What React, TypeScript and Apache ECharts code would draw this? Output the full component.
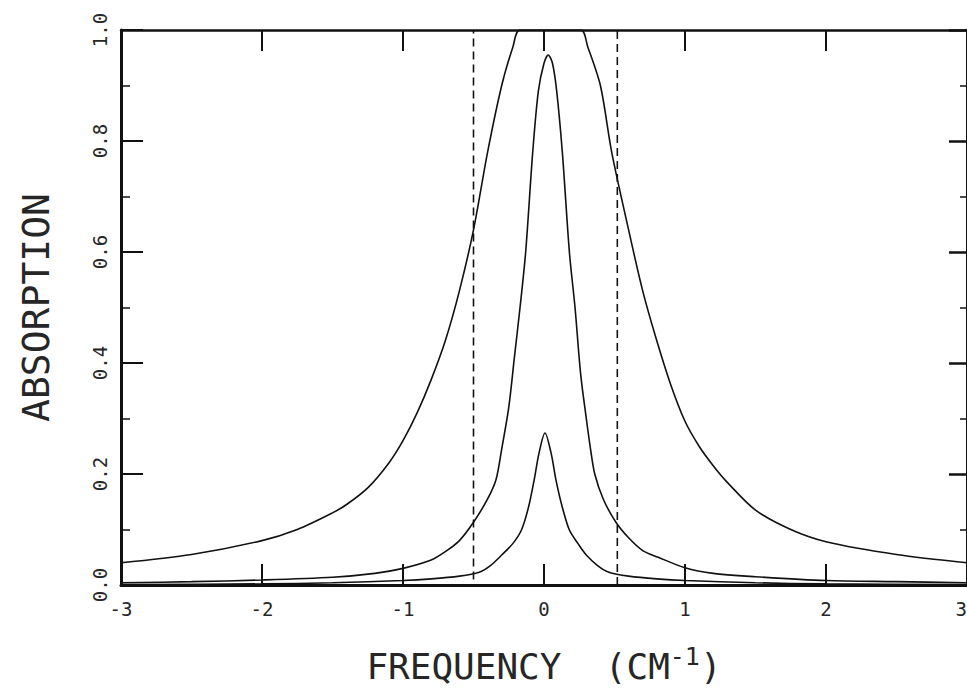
import React, { useEffect, useRef } from "react";
import * as echarts from "echarts";

// x tick labels (frequency, cm^-1)
const xTicks = [-3, -2, -1, 0, 1, 2, 3];
// y tick labels (absorption)
const yTicks = [0, 0.2, 0.4, 0.6, 0.8, 1.0];

// Broad (saturated) line: [frequency, absorption]
const broadLine: [number, number][] = [
  [-3, 0.04], [-2.5, 0.055], [-2, 0.08], [-1.75, 0.1], [-1.5, 0.13], [-1.4, 0.145],
  [-1.25, 0.175], [-1.1, 0.22], [-1.0, 0.26], [-0.9, 0.31], [-0.8, 0.37], [-0.7, 0.44],
  [-0.6, 0.53], [-0.5, 0.64], [-0.4, 0.78], [-0.3, 0.9], [-0.22, 0.97], [-0.17, 1.0],
  [0.26, 1.0], [0.31, 0.97], [0.4, 0.9], [0.48, 0.78], [0.6, 0.64], [0.7, 0.53],
  [0.8, 0.44], [0.9, 0.36], [1.0, 0.295], [1.1, 0.25], [1.2, 0.215], [1.3, 0.185],
  [1.5, 0.135], [1.75, 0.1], [2.0, 0.078], [2.5, 0.055], [3.0, 0.04],
];

// Intermediate line
const middleLine: [number, number][] = [
  [-3, 0.004], [-2.5, 0.006], [-2, 0.009], [-1.5, 0.014], [-1.2, 0.021], [-1, 0.03],
  [-0.8, 0.045], [-0.7, 0.06], [-0.6, 0.08], [-0.5, 0.113], [-0.4, 0.155], [-0.34, 0.19],
  [-0.3, 0.245], [-0.25, 0.32], [-0.21, 0.41], [-0.17, 0.5], [-0.13, 0.6], [-0.08, 0.78],
  [-0.04, 0.89], [0, 0.94], [0.03, 0.955], [0.06, 0.94], [0.09, 0.89], [0.13, 0.78],
  [0.18, 0.6], [0.22, 0.5], [0.26, 0.38], [0.3, 0.3], [0.33, 0.245], [0.36, 0.2],
  [0.42, 0.155], [0.51, 0.113], [0.6, 0.085], [0.7, 0.062], [0.81, 0.05], [1.0, 0.031],
  [1.2, 0.021], [1.5, 0.015], [2, 0.008], [2.5, 0.006], [3, 0.004],
];

// Weak line
const weakLine: [number, number][] = [
  [-3, 0.001], [-2, 0.002], [-1.5, 0.004], [-1, 0.008], [-0.8, 0.011], [-0.6, 0.016],
  [-0.46, 0.023], [-0.38, 0.035], [-0.3, 0.054], [-0.22, 0.075], [-0.16, 0.099],
  [-0.11, 0.14], [-0.07, 0.189], [-0.035, 0.238], [0.007, 0.274], [0.05, 0.238],
  [0.085, 0.189], [0.13, 0.14], [0.18, 0.099], [0.24, 0.075], [0.3, 0.054], [0.38, 0.035],
  [0.46, 0.023], [0.6, 0.016], [0.8, 0.011], [1, 0.008], [1.5, 0.004], [2, 0.002], [3, 0.001],
];

// Dashed vertical markers
const leftMarker: [number, number][] = [[-0.5, 0.01], [-0.5, 1.0]];
const rightMarker: [number, number][] = [[0.52, 0.0], [0.52, 1.0]];

const MONO = "'DejaVu Sans Mono', 'Liberation Mono', monospace";
const INK = "#111";
const TEXT = "#262626";

export default function App() {
  const ref = useRef<HTMLDivElement>(null);

  useEffect(() => {
    if (!ref.current) return;
    const chart = echarts.init(ref.current, undefined, { renderer: "svg" });

    const curveStyle = { color: INK, width: 1.6 };
    const dashStyle = { color: INK, width: 1.6, type: [8, 5] as number[] };

    chart.setOption({
      animation: false,
      backgroundColor: "#ffffff",
      grid: {
        left: 121,
        right: 0,
        top: 30,
        bottom: 108,
        containLabel: false,
        outerBoundsMode: "none",
      },
      xAxis: [
        {
          type: "value",
          position: "bottom",
          min: xTicks[0],
          max: xTicks[xTicks.length - 1],
          interval: 1,
          name: "{m|FREQUENCY  (CM}{sup|-1}{m|)}",
          nameLocation: "middle",
          nameGap: 59,
          nameTextStyle: {
            fontFamily: MONO,
            fontSize: 36,
            color: TEXT,
            rich: {
              m: { fontFamily: MONO, fontSize: 36, lineHeight: 36, padding: [8, 0, 0, 0], color: TEXT },
              sup: { fontFamily: MONO, fontSize: 25, lineHeight: 25, verticalAlign: "top", color: TEXT },
            },
          },
          axisLine: { show: true, onZero: false, lineStyle: { color: INK, width: 3 } },
          axisTick: { show: true, inside: true, length: 21, lineStyle: { color: INK, width: 2 } },
          axisLabel: {
            show: true,
            margin: 14,
            fontFamily: MONO,
            fontSize: 19,
            color: TEXT,
            alignMaxLabel: "right",
            formatter: (v: number) => String(v),
          },
          splitLine: { show: false },
        },
        {
          type: "value",
          position: "top",
          min: xTicks[0],
          max: xTicks[xTicks.length - 1],
          interval: 1,
          axisLine: { show: true, onZero: false, lineStyle: { color: INK, width: 2.5 } },
          axisTick: { show: true, inside: true, length: 21, lineStyle: { color: INK, width: 2 } },
          axisLabel: { show: false },
          splitLine: { show: false },
        },
      ],
      yAxis: [
        {
          type: "value",
          position: "left",
          min: yTicks[0],
          max: yTicks[yTicks.length - 1],
          interval: 0.2,
          name: "ABSORPTION",
          nameLocation: "middle",
          nameGap: 66,
          nameTextStyle: { fontFamily: MONO, fontSize: 38, color: TEXT },
          axisLine: { show: true, onZero: false, lineStyle: { color: INK, width: 3 } },
          axisTick: { show: true, inside: true, length: 22, lineStyle: { color: INK, width: 2 } },
          minorTick: { show: true, splitNumber: 2, length: 9, lineStyle: { color: INK, width: 1.5 } },
          axisLabel: {
            show: true,
            rotate: 90,
            margin: 12,
            fontFamily: MONO,
            fontSize: 19,
            color: TEXT,
            formatter: (v: number) => v.toFixed(1),
          },
          splitLine: { show: false },
          minorSplitLine: { show: false },
        },
        {
          type: "value",
          position: "right",
          min: yTicks[0],
          max: yTicks[yTicks.length - 1],
          interval: 0.2,
          axisLine: { show: true, onZero: false, lineStyle: { color: INK, width: 3 } },
          axisTick: { show: true, inside: true, length: 18, lineStyle: { color: INK, width: 2.5 } },
          minorTick: { show: true, splitNumber: 2, length: 7, lineStyle: { color: INK, width: 1.5 } },
          axisLabel: { show: false },
          splitLine: { show: false },
          minorSplitLine: { show: false },
        },
      ],
      series: [
        { type: "line", data: broadLine, showSymbol: false, smooth: 0.3, lineStyle: curveStyle, xAxisIndex: 0, yAxisIndex: 0, z: 3 },
        { type: "line", data: middleLine, showSymbol: false, smooth: 0.3, lineStyle: curveStyle, xAxisIndex: 0, yAxisIndex: 0, z: 3 },
        { type: "line", data: weakLine, showSymbol: false, smooth: 0.3, lineStyle: curveStyle, xAxisIndex: 0, yAxisIndex: 0, z: 3 },
        { type: "line", data: leftMarker, showSymbol: false, lineStyle: dashStyle, xAxisIndex: 0, yAxisIndex: 0, z: 2 },
        { type: "line", data: rightMarker, showSymbol: false, lineStyle: dashStyle, xAxisIndex: 0, yAxisIndex: 0, z: 2 },
      ],
    });

    return () => chart.dispose();
  }, []);

  return (
    <div
      ref={ref}
      style={{ position: "fixed", left: 0, top: 0, width: 967, height: 693, background: "#fff" }}
    />
  );
}
